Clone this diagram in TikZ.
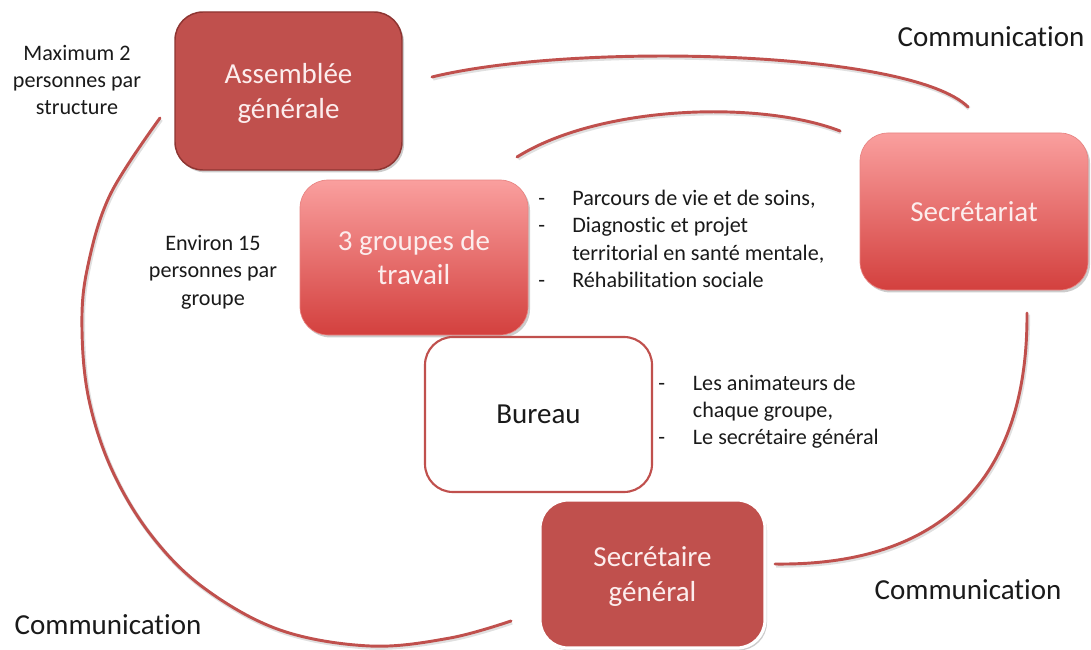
\documentclass[tikz,border=0pt]{standalone}
\usepackage{fontspec}
\setmainfont{Carlito}[Ligatures=NoCommon]
\usetikzlibrary{shadows}
\definecolor{redfill}{HTML}{C0504D}
\definecolor{redline}{HTML}{8E3532}
\definecolor{pinktop}{HTML}{FA9F9E}
\definecolor{pinkbot}{HTML}{D3403E}
\definecolor{pinkline}{HTML}{E88482}
\definecolor{boxtext}{HTML}{FCEDED}
\definecolor{arccol}{HTML}{C0504D}
\definecolor{txt}{HTML}{1A1A1A}
\begin{document}
\begin{tikzpicture}[x=0.75pt,y=-0.75pt,
  box/.style={rectangle, rounded corners=21pt, align=center, inner sep=0pt,
    text depth=0pt, font=\fontsize{21.75}{26}\selectfont},
  boxshadow/.style={drop shadow={shadow xshift=1.5pt, shadow yshift=-1.8pt, opacity=.2, fill=black}},
  darkbox/.style={box, boxshadow, fill=redfill, draw=redline, line width=1.1pt, text=boxtext},
  whiteedgebox/.style={box, boxshadow, fill=redfill, draw=white, line width=2.4pt, text=boxtext},
  gradbox/.style={box, boxshadow, top color=pinktop, bottom color=pinkbot, draw=pinkline, line width=.5pt, text=boxtext},
  plainbox/.style={box, fill=white, draw=redfill, line width=1.6pt, text=txt},
  small/.style={font=\fontsize{16.6}{20.6}\selectfont, text=txt, inner sep=0pt},
  big/.style={font=\fontsize{21.75}{26}\selectfont, text=txt, inner sep=0pt},
  arcline/.style={draw=arccol, line width=2.2pt, line cap=round,
    preaction={draw=black, opacity=.12, line width=3pt, transform canvas={xshift=.8pt, yshift=-1.2pt}}}
]
\useasboundingbox (0,0) rectangle (1091,649);
\fill[white] (0,0) rectangle (1091,649);

% boxes
\node[darkbox, minimum width=227*0.75pt, minimum height=158*0.75pt] (AG) at (288.5,91) {Assemblée\\générale};
\node[gradbox, minimum width=228*0.75pt, minimum height=155*0.75pt] (GT) at (414,257.5) {3 groupes de\\travail};
\node[plainbox, minimum width=227*0.75pt, minimum height=155*0.75pt] (BU) at (538.5,414.5) {Bureau};
\node[whiteedgebox, minimum width=225*0.75pt, minimum height=148*0.75pt] (SG) at (652.5,574) {Secrétaire\\général};
\node[gradbox, minimum width=228*0.75pt, minimum height=157*0.75pt] (SE) at (974,211.5) {Secrétariat};

% arcs
\coordinate (o1) at (432,77);
\coordinate (o2) at (968,107);
\coordinate (i1) at (517,157);
\coordinate (i2) at (840,131);
\coordinate (r1) at (1027,313);
\coordinate (r2) at (775,564);
\coordinate (l1) at (160,118);
\coordinate (l2) at (511,621);
\draw[arcline] (o1) .. controls (575,42) and (910,50) .. (o2);
\draw[arcline] (i1) .. controls (600,105) and (760,100) .. (i2);
\draw[arcline] (r1) .. controls (1028,490) and (930,566) .. (r2);
\draw[arcline] plot[smooth, tension=0.6] coordinates {(l1) (110,195) (87,270) (82,330) (89,400) (112,470) (151,535) (204,588) (280,630) (370,646) (450,638) (l2)};

% texts
\node[small, align=center] (M2) at (77,80) {Maximum 2\\personnes par\\structure};
\node[small, align=center] (E15) at (213,272) {Environ 15\\personnes par\\groupe};
\node[big] (C1) at (991,37) {Communication};
\node[big] (C2) at (968,590) {Communication};
\node[big] (C3) at (108,625) {Communication};

\node[small, anchor=west] (L1) at (538,241) {\begin{tabular}{@{}p{25.5pt}@{}l@{}}
-& Parcours de vie et de soins,\\
-& Diagnostic et projet\\
 & territorial en santé mentale,\\
-& Réhabilitation sociale
\end{tabular}};
\node[small, anchor=west] (L2) at (658,412) {\begin{tabular}{@{}p{26pt}@{}l@{}}
-& Les animateurs de\\
 & chaque groupe,\\
-& Le secrétaire général
\end{tabular}};
\end{tikzpicture}
\end{document}
